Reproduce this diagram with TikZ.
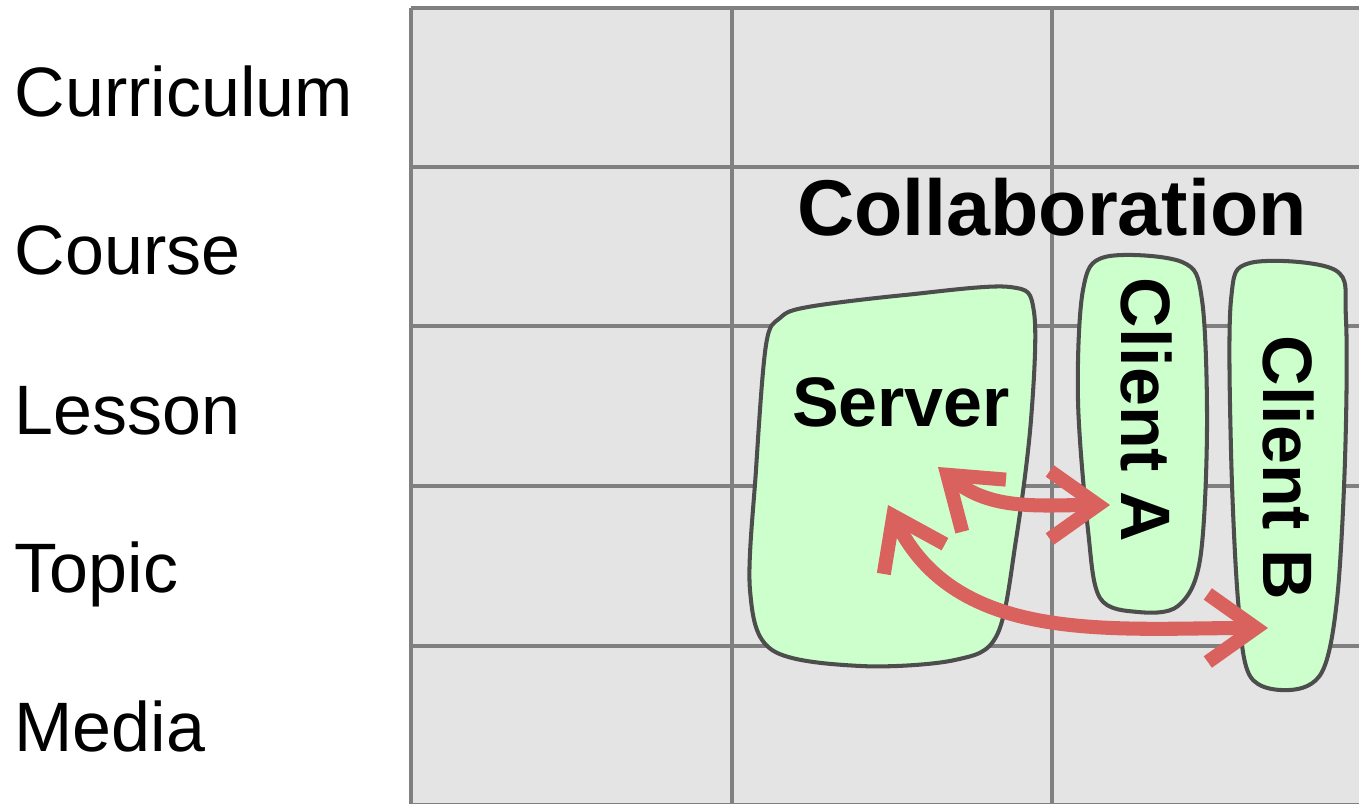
\documentclass[tikz,border=0pt]{standalone}
\usepackage{fontspec}
\setmainfont{Liberation Sans}
\usetikzlibrary{arrows.meta}
\definecolor{gridfill}{HTML}{E4E4E4}
\definecolor{gridline}{HTML}{808080}
\definecolor{blobfill}{HTML}{CCFFCC}
\definecolor{blobline}{HTML}{4D4D4D}
\definecolor{linkred}{HTML}{D9625E}

\begin{document}
\begin{tikzpicture}[x=0.01cm, y=-0.01cm]
  \tikzset{level/.style={anchor=base west, inner sep=0pt, font=\fontsize{19.9}{24}\selectfont},
           role/.style={anchor=base, inner sep=0pt, font=\fontsize{19.9}{24}\selectfont\bfseries},
           cell/.style={draw=gridline, line width=1.4pt},
           blob/.style={draw=blobline, fill=blobfill, line width=1.15pt},
           link/.style={draw=linkred, line width=4pt,
             {Straight Barb[length=4.8mm, width=6.8mm]}-{Straight Barb[length=4.8mm, width=6.8mm]}}}
  \useasboundingbox (0,0) rectangle (1359,804);
  \fill[gridfill] (411,8) rectangle (1380,805);
  \foreach \gx in {411,732,1052,1372} \draw[cell] (\gx,8) -- (\gx,805);
  \foreach \gy in {8,167,326,486,646,805} \draw[cell] (411,\gy) -- (1380,\gy);
  \node[level] (curriculum) at (14,117) {Curriculum};
  \node[level] (course) at (14,275) {Course};
  \node[level] (lesson) at (14,435) {Lesson};
  \node[level] (topic) at (14,593) {Topic};
  \node[level] (media) at (14,752) {Media};
  \node[role, font=\fontsize{22.5}{27}\selectfont\bfseries] (collab) at (1052,236) {Collaboration};
  \draw[blob] plot[smooth cycle, tension=0.55] coordinates {(808,307) (905,295) (1010,287) (1034,312)
    (1031,420) (1016,540) (997,635) (955,660) (860,666) (772,650) (750,590) (756,470) (766,345) (780,318)};
  \draw[blob] plot[smooth cycle, tension=0.55] coordinates {(1105,257) (1182,262) (1202,300) (1207,430)
    (1200,560) (1178,606) (1138,612) (1100,598) (1088,530) (1078,400) (1083,290)};
  \draw[blob] plot[smooth cycle, tension=0.55] coordinates {(1250,263) (1335,270) (1346,320) (1345,460)
    (1337,600) (1322,672) (1290,690) (1250,676) (1238,600) (1231,450) (1231,300)};
  \node[role] (server) at (901,427) {Server};
  \node[role, rotate=-90] (clientA) at (1121,410) {Client A};
  \node[role, rotate=-90] (clientB) at (1263,468) {Client B};
  \coordinate (sa) at (938,467);
  \coordinate (ca) at (1110,505);
  \coordinate (sb) at (888,505);
  \coordinate (cb) at (1268,628);
  \draw[link] (sa) to[out=-40, in=180] (ca);
  \draw[link] (sb) to[out=-64, in=180] (cb);
\end{tikzpicture}
\end{document}
